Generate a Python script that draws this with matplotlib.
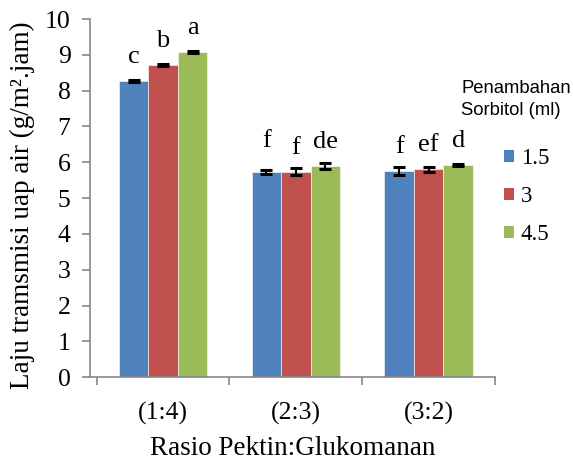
import numpy as np
import matplotlib.pyplot as plt
from matplotlib.patches import Patch

plt.rcParams['font.family'] = ['Liberation Serif', 'DejaVu Serif']

# rasio pektin:glukomanan, nilai rata-rata laju transmisi uap air
categories = ['(1:4)', '(2:3)', '(3:2)']
series_names = ['1.5', '3', '4.5']
wvtr_15 = [8.28, 5.73, 5.76]
wvtr_3 = [8.71, 5.74, 5.80]
wvtr_45 = [9.08, 5.89, 5.93]
err_15 = [0.03, 0.06, 0.12]
err_3 = [0.03, 0.10, 0.06]
err_45 = [0.03, 0.09, 0.03]
notasi_15 = ['c', 'f', 'f']
notasi_3 = ['b', 'f', 'ef']
notasi_45 = ['a', 'de', 'd']

colors = ['#4F81BD', '#C0504D', '#9BBB59']
axis_gray = '#868686'

fig = plt.figure(figsize=(5.73, 4.65), dpi=100)
ax = fig.add_axes([0.157, 0.189, 0.707, 0.770])

x = np.arange(len(categories))
w = 0.222
data = [(wvtr_15, err_15, notasi_15), (wvtr_3, err_3, notasi_3), (wvtr_45, err_45, notasi_45)]
# sedikit geser huruf notasi pertama kelompok (2:3)
extra = [[0, 5, 0], [0, 0, 0], [0, 0, 0]]

for i, (vals, errs, notes) in enumerate(data):
    pos = x + (i - 1) * w
    ax.bar(pos, vals, width=w, color=colors[i], edgecolor='white', linewidth=0.4,
           label=series_names[i], zorder=2)
    ax.errorbar(pos, vals, yerr=errs, fmt='none', ecolor='black', elinewidth=1.5,
                capsize=4.3, capthick=2.2, zorder=3)
    for j in range(len(vals)):
        ax.annotate(notes[j], (pos[j], vals[j]), xytext=(0, 13 + extra[i][j]),
                    textcoords='offset points', ha='center', va='baseline', fontsize=19)

ax.set_ylim(0, 10)
ax.set_xlim(-0.55, 2.5)
ax.set_yticks(range(0, 11))
ax.set_xticks(x)
ax.set_xticklabels(categories)
ax.set_xticks([-0.5, 0.5, 1.5, 2.5], minor=True)
ax.tick_params(axis='x', which='major', length=0, labelsize=18.5, pad=18)
ax.tick_params(axis='x', which='minor', length=6, color=axis_gray, width=1.2)
ax.tick_params(axis='y', length=6, color=axis_gray, width=1.2, labelsize=18.5, pad=8)

for s in ['top', 'right']:
    ax.spines[s].set_visible(False)
for s in ['left', 'bottom']:
    ax.spines[s].set_color(axis_gray)
    ax.spines[s].set_linewidth(1.2)

ax.set_ylabel('Laju tramsmisi uap air (g/m\u00b2.jam)', fontsize=19.5)
ax.yaxis.set_label_coords(-0.135, 0.48)
ax.set_xlabel('Rasio Pektin:Glukomanan', fontsize=19.5, labelpad=8)

fig.text(0.805, 0.786, 'Penambahan\nSorbitol (ml)', family='Liberation Sans',
         fontsize=13.3, ha='left', va='center', linespacing=1.45)
handles = [Patch(facecolor=c, edgecolor='none') for c in colors]
fig.legend(handles, series_names, loc='upper left', bbox_to_anchor=(0.879, 0.682),
           frameon=False, fontsize=16.5, handlelength=0.45, handleheight=0.45,
           handletextpad=0.3, labelspacing=0.75, borderaxespad=0, borderpad=0)

fig.savefig('out.png', dpi=100)
